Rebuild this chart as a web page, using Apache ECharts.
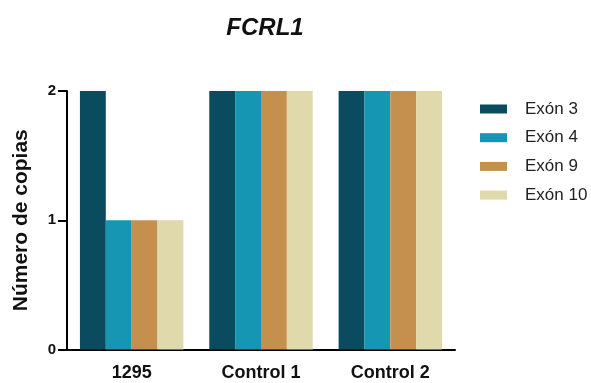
<!DOCTYPE html>
<html>
<head>
<meta charset="utf-8">
<script src="https://cdn.jsdelivr.net/npm/echarts@6/dist/echarts.min.js"></script>
<style>
  html, body { margin: 0; padding: 0; background: #fff; }
  #chart { width: 591px; height: 383px; }
</style>
</head>
<body>
<div id="chart"></div>
<script>
// Copy number per exon for the patient sample and two controls
const categories = ['1295', 'Control 1', 'Control 2'];
const exon3 = [2, 2, 2];
const exon4 = [1, 2, 2];
const exon9 = [1, 2, 2];
const exon10 = [1, 2, 2];
const seriesNames = ['Exón 3', 'Exón 4', 'Exón 9', 'Exón 10'];
const yTicks = [0, 1, 2];

const colors = ['#0a4b5f', '#1597b4', '#c5904e', '#e0d9ab'];
const font = 'Liberation Sans, Arial, Helvetica, sans-serif';

const chart = echarts.init(document.getElementById('chart'), null, { renderer: 'canvas' });

const seriesData = [exon3, exon4, exon9, exon10];

chart.setOption({
  animation: false,
  color: colors,
  title: {
    text: 'FCRL1',
    left: 260,
    top: 11,
    textAlign: 'center',
    textStyle: { fontFamily: font, fontSize: 24, fontWeight: 'bold', fontStyle: 'italic', color: '#111' }
  },
  legend: {
    orient: 'vertical',
    left: 475,
    top: 95.5,
    itemWidth: 27,
    itemHeight: 9,
    itemGap: 11.7,
    icon: 'rect',
    textStyle: { fontFamily: font, fontSize: 17, color: '#222', padding: [0, 0, 0, 13] },
    data: seriesNames
  },
  grid: { left: 67, right: 136, top: 91, bottom: 33.5 },
  xAxis: {
    type: 'category',
    data: categories,
    axisLine: { lineStyle: { color: '#000', width: 2 } },
    axisTick: { alignWithLabel: true, length: 6, lineStyle: { color: '#000', width: 2 } },
    axisLabel: { fontFamily: font, fontSize: 18, fontWeight: 'bold', color: '#111', margin: 15 }
  },
  yAxis: {
    type: 'value',
    min: yTicks[0],
    max: yTicks[yTicks.length - 1],
    interval: 1,
    name: 'Número de copias',
    nameLocation: 'middle',
    nameGap: 35,
    nameTextStyle: { fontFamily: font, fontSize: 21, fontWeight: 'bold', color: '#111' },
    axisLine: { show: true, lineStyle: { color: '#000', width: 2 } },
    axisTick: { show: true, length: 9, lineStyle: { color: '#000', width: 2 } },
    axisLabel: { fontFamily: font, fontSize: 15, fontWeight: 'bold', color: '#111', margin: 11 },
    splitLine: { show: false }
  },
  series: seriesNames.map((name, i) => ({
    name: name,
    type: 'bar',
    data: seriesData[i],
    barGap: '0%',
    barCategoryGap: '20%'
  }))
});
</script>
</body>
</html>
